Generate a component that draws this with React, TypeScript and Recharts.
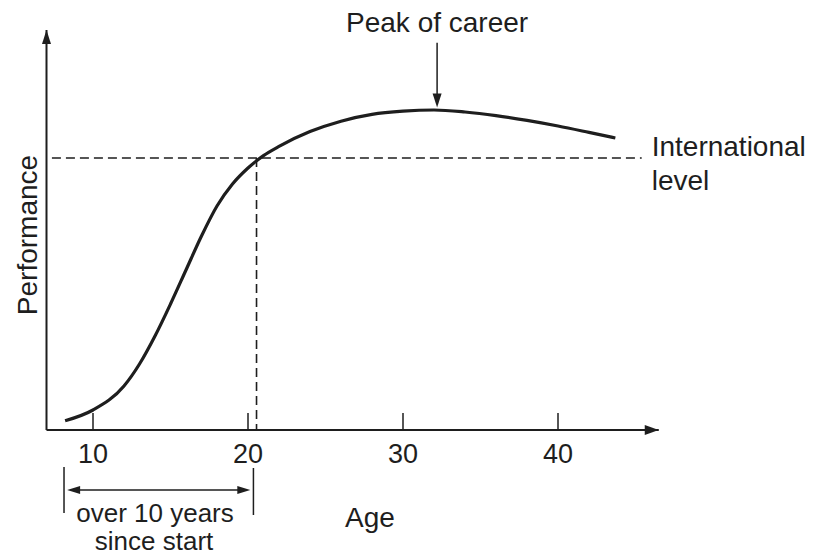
import React from 'react';
import { LineChart, Line, XAxis, YAxis, ReferenceLine, ReferenceDot } from 'recharts';

// curve (age in years, performance in arbitrary units 0-100)
const ages = [8.2, 10, 12, 13, 14, 15, 16, 17, 18, 19, 20, 21, 22, 24, 26, 28, 30, 32, 34, 36, 38, 40, 42, 43.7];
const performance = [2.3, 5, 11, 16.5, 23.5, 31.5, 40, 48.5, 56, 61.5, 65.5, 68.6, 70.9, 74.6, 77.2, 78.9, 79.7, 80, 79.5, 78.6, 77.4, 76, 74.4, 73];
const ageTicks = [10, 20, 30, 40];

const internationalLevel = 68;
const internationalAge = 20.55;
const levelLineEnd = 45.4;
const careerStart = 8.13;
const tenYearsOn = 20.35;
const peakAge = 32.2;
const peakLevel = 80;

const data = ages.map((age, i) => ({ age, performance: performance[i] }));

const INK = '#1e1e1e';
const FONT = '"Liberation Sans", Arial, Helvetica, sans-serif';

const arrowHead = (dir: 'up' | 'down' | 'left' | 'right', len = 14, half = 5) => (p: any) => {
  const { cx, cy } = p;
  let pts: number[][];
  if (dir === 'up') pts = [[cx, cy], [cx - half, cy + len], [cx + half, cy + len]];
  else if (dir === 'down') pts = [[cx, cy], [cx - half, cy - len], [cx + half, cy - len]];
  else if (dir === 'left') pts = [[cx, cy], [cx + len, cy - half], [cx + len, cy + half]];
  else pts = [[cx, cy], [cx - len, cy - half], [cx - len, cy + half]];
  return <polygon points={pts.map((q) => q.join(',')).join(' ')} fill={INK} />;
};

const textAt =
  (text: string, opts: { dx?: number; dy?: number; size?: number; anchor?: string; rotate?: boolean } = {}) =>
  (p: any) => {
    const x = p.cx + (opts.dx || 0);
    const y = p.cy + (opts.dy || 0);
    return (
      <text
        x={x}
        y={y}
        fill={INK}
        fontSize={opts.size || 28}
        fontFamily={FONT}
        textAnchor={opts.anchor || 'middle'}
        transform={opts.rotate ? `rotate(-90 ${x} ${y})` : undefined}
      >
        {text}
      </text>
    );
  };

const AgeTick = (props: any) => {
  const { x, y, payload } = props;
  return (
    <g>
      <line x1={x} y1={y - 17} x2={x} y2={y} stroke={INK} strokeWidth={1.5} />
      <text x={x} y={y + 33} textAnchor="middle" fontSize={27} fill={INK} fontFamily={FONT}>
        {payload.value}
      </text>
    </g>
  );
};

const dashed = { stroke: INK, strokeWidth: 1.6, strokeDasharray: '9 5' };
const thin = { stroke: INK, strokeWidth: 1.5 };

export default function App() {
  return (
    <div style={{ position: 'absolute', left: 0, top: 0, width: 823, height: 555, background: '#fff' }}>
      <LineChart width={823} height={555} data={data} margin={{ top: 30, right: 164.25, bottom: 95, left: 26.5 }}>
        <XAxis
          type="number"
          dataKey="age"
          domain={[7, 46.5]}
          ticks={ageTicks}
          interval={0}
          height={30}
          axisLine={{ stroke: INK, strokeWidth: 2 }}
          tickLine={false}
          tickSize={0}
          tickMargin={0}
          tick={<AgeTick />}
          allowDataOverflow
        />
        <YAxis
          type="number"
          domain={[0, 100]}
          width={20}
          tick={false}
          tickLine={false}
          axisLine={{ stroke: INK, strokeWidth: 2 }}
          allowDataOverflow
        />

        <ReferenceLine segment={[{ x: 7.35, y: internationalLevel }, { x: levelLineEnd, y: internationalLevel }]} {...dashed} />
        <ReferenceLine segment={[{ x: internationalAge, y: internationalLevel }, { x: internationalAge, y: 0 }]} {...dashed} />

        <Line
          type="monotone"
          dataKey="performance"
          stroke={INK}
          strokeWidth={3.2}
          dot={false}
          activeDot={false}
          isAnimationActive={false}
        />

        {/* axis arrow heads */}
        <ReferenceDot x={7} y={100} ifOverflow="visible" shape={arrowHead('up', 14, 4.5)} />
        <ReferenceDot x={46.5} y={0} ifOverflow="visible" shape={arrowHead('right', 14, 5)} />

        {/* peak of career */}
        <ReferenceLine segment={[{ x: peakAge, y: 96.8 }, { x: peakAge, y: 84 }]} {...thin} />
        <ReferenceDot x={peakAge} y={peakLevel + 0.6} ifOverflow="visible" shape={arrowHead('down', 14, 4.5)} />
        <ReferenceDot x={peakAge} y={99.5} ifOverflow="visible" shape={textAt('Peak of career')} />

        {/* international level */}
        <ReferenceDot x={levelLineEnd} y={internationalLevel} ifOverflow="visible" shape={textAt('International', { dx: 10, dy: -2, anchor: 'start' })} />
        <ReferenceDot x={levelLineEnd} y={internationalLevel} ifOverflow="visible" shape={textAt('level', { dx: 10, dy: 32, anchor: 'start' })} />

        {/* axis titles */}
        <ReferenceDot x={6.39} y={48.75} ifOverflow="visible" shape={textAt('Performance', { rotate: true })} />
        <ReferenceDot x={27.87} y={-24.25} ifOverflow="visible" shape={textAt('Age')} />

        {/* ten-year bracket */}
        <ReferenceLine ifOverflow="visible" segment={[{ x: careerStart, y: -9.25 }, { x: careerStart, y: -20.75 }]} {...thin} />
        <ReferenceLine ifOverflow="visible" segment={[{ x: tenYearsOn, y: -9.5 }, { x: tenYearsOn, y: -21.25 }]} {...thin} />
        <ReferenceLine ifOverflow="visible" segment={[{ x: careerStart + 0.5, y: -15 }, { x: tenYearsOn - 0.5, y: -15 }]} {...thin} />
        <ReferenceDot x={careerStart + 0.2} y={-15} ifOverflow="visible" shape={arrowHead('left', 13, 4)} />
        <ReferenceDot x={tenYearsOn - 0.2} y={-15} ifOverflow="visible" shape={arrowHead('right', 13, 4)} />
        <ReferenceDot x={14.0} y={-23} ifOverflow="visible" shape={textAt('over 10 years', { size: 26 })} />
        <ReferenceDot x={13.94} y={-30} ifOverflow="visible" shape={textAt('since start', { size: 26 })} />
      </LineChart>
    </div>
  );
}
